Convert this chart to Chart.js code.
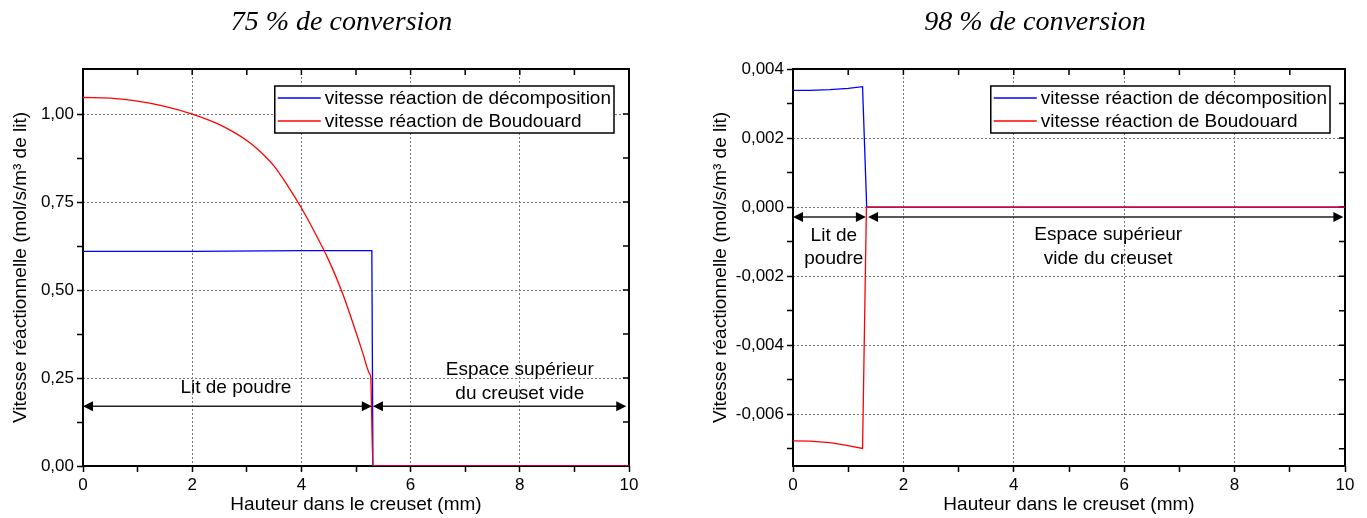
<!DOCTYPE html>
<html>
<head>
<meta charset="utf-8">
<script src="https://cdn.jsdelivr.net/npm/chart.js@4.4.1/dist/chart.umd.min.js"></script>
<style>
  html, body { margin: 0; padding: 0; background: #fff; }
  body { width: 1367px; height: 518px; position: relative; overflow: hidden; }
  canvas { position: absolute; top: 0; }
  #chartLeft { left: 0; }
  #chartRight { left: 703px; }
</style>
</head>
<body>
<canvas id="chartLeft" width="683" height="518"></canvas>
<canvas id="chartRight" width="664" height="518"></canvas>
<script>
const FONT = "'Liberation Sans', Arial, sans-serif";
const seriesNames = ['vitesse réaction de décomposition', 'vitesse réaction de Boudouard'];
const xTitle = 'Hauteur dans le creuset (mm)';
const yTitle = 'Vitesse réactionnelle (mol/s/m³ de lit)';

// 75 % de conversion
const leftBlueX = [0, 2, 4, 5.29, 5.31, 10];
const leftBlueY = [0.61, 0.61, 0.612, 0.612, 0, 0];
const leftRedX = [0, 0.5, 1, 1.5, 2, 2.5, 3, 3.25, 3.5, 3.75, 4, 4.25, 4.5, 4.75, 5, 5.13, 5.25, 5.27, 5.31, 10];
const leftRedY = [1.047, 1.045, 1.037, 1.022, 1.0, 0.97, 0.925, 0.893, 0.852, 0.796, 0.733, 0.662, 0.585, 0.492, 0.38, 0.318, 0.262, 0.252, 0, 0];
const leftXTicks = [0, 2, 4, 6, 8, 10];
const leftXMinor = [1, 3, 5, 7, 9];
const leftYTicks = [0, 0.25, 0.5, 0.75, 1.0];
const leftYMinor = [0.125, 0.375, 0.625, 0.875];

// 98 % de conversion
const rightBlueX = [0, 0.3, 0.67, 1.0, 1.26, 1.335, 10];
const rightBlueY = [0.00338, 0.00338, 0.0034, 0.00344, 0.00349, 0, 0];
const rightRedX = [0, 0.3, 0.67, 0.97, 1.26, 1.33, 10];
const rightRedY = [-0.00677, -0.00678, -0.00682, -0.0069, -0.00699, 0, 0];
const rightXTicks = [0, 2, 4, 6, 8, 10];
const rightXMinor = [1, 3, 5, 7, 9];
const rightYTicks = [-0.006, -0.004, -0.002, 0, 0.002, 0.004];
const rightYMinor = [-0.007, -0.005, -0.003, -0.001, 0.001, 0.003];

const pts = (xs, ys) => xs.map((x, i) => ({x: x, y: ys[i]}));
const isMajor = (list, v) => list.some(m => Math.abs(m - v) < 1e-9);
const comma = d => v => v.toFixed(d).replace('.', ',');

function axis(major, minor, min, max, fmt, title, titlePad, fit) {
  return {
    type: 'linear', min: min, max: max,
    afterBuildTicks: s => { s.ticks = major.concat(minor).sort((a, b) => a - b).map(v => ({value: v})); },
    afterFit: fit,
    ticks: {
      autoSkip: false, maxRotation: 0, color: '#000', padding: 3,
      font: {family: FONT, size: 17},
      callback: v => isMajor(major, v) ? fmt(v) : ''
    },
    grid: {
      color: c => (c.tick && isMajor(major, c.tick.value)) ? '#777' : 'rgba(0,0,0,0)',
      lineWidth: 1, tickLength: 6, tickColor: '#000', tickWidth: 1.5
    },
    border: {display: false, dash: [2, 2]},
    title: {display: true, text: title, color: '#000', font: {family: FONT, size: 19}, padding: titlePad}
  };
}

// frame with mirror ticks (under the curves), then title, legend, arrows and labels
const decorPlugin = {
  id: 'decor',
  beforeDatasetsDraw(chart) {
    const {ctx, chartArea: a, scales: {x, y}} = chart;
    ctx.save();
    ctx.strokeStyle = '#000';
    ctx.lineWidth = 1.5;
    ctx.beginPath();
    x.ticks.forEach(t => { const px = x.getPixelForValue(t.value); ctx.moveTo(px, a.top); ctx.lineTo(px, a.top + 6); });
    y.ticks.forEach(t => { const py = y.getPixelForValue(t.value); ctx.moveTo(a.right, py); ctx.lineTo(a.right - 6, py); });
    ctx.stroke();
    ctx.lineWidth = 2;
    ctx.strokeRect(a.left, a.top, a.right - a.left, a.bottom - a.top);
    ctx.restore();
  },
  afterDraw(chart, args, o) {
    const {ctx, chartArea: a, scales: {x, y}} = chart;
    ctx.save();
    ctx.fillStyle = '#000';
    ctx.font = "italic 28px 'Liberation Serif', 'Times New Roman', serif";
    ctx.textAlign = 'center';
    ctx.textBaseline = 'middle';
    ctx.fillText(o.title, chart.width / 2, 23);

    // arrows
    ctx.font = '19px ' + FONT;
    o.arrows.forEach(ar => {
      const x1 = x.getPixelForValue(ar[0]), x2 = x.getPixelForValue(ar[1]), py = y.getPixelForValue(ar[2]);
      ctx.strokeStyle = '#222';
      ctx.lineWidth = 1.5;
      ctx.beginPath(); ctx.moveTo(x1 + 8, py); ctx.lineTo(x2 - 8, py); ctx.stroke();
      ctx.fillStyle = '#000';
      ctx.beginPath(); ctx.moveTo(x1, py); ctx.lineTo(x1 + 10, py - 5); ctx.lineTo(x1 + 10, py + 5); ctx.closePath(); ctx.fill();
      ctx.beginPath(); ctx.moveTo(x2, py); ctx.lineTo(x2 - 10, py - 5); ctx.lineTo(x2 - 10, py + 5); ctx.closePath(); ctx.fill();
    });
    ctx.fillStyle = '#000';
    o.labels.forEach(l => ctx.fillText(l[0], x.getPixelForValue(l[1]), y.getPixelForValue(l[2])));

    // legend
    const ds = chart.data.datasets.slice().sort((p, q) => q.order - p.order);
    const tw = Math.max(...ds.map(d => ctx.measureText(d.label).width));
    const bw = 3 + 43 + 4 + tw + 3, bh = 47;
    const bx = a.right - 15 - bw, by = a.top + 17;
    ctx.fillStyle = '#fff';
    ctx.fillRect(bx, by, bw, bh);
    ctx.strokeStyle = '#000';
    ctx.lineWidth = 1.5;
    ctx.strokeRect(bx, by, bw, bh);
    ctx.textAlign = 'left';
    ds.forEach((d, i) => {
      const ry = by + 12 + i * 23;
      ctx.strokeStyle = d.borderColor;
      ctx.lineWidth = 1.3;
      ctx.beginPath(); ctx.moveTo(bx + 3, ry); ctx.lineTo(bx + 46, ry); ctx.stroke();
      ctx.fillStyle = '#000';
      ctx.fillText(d.label, bx + 50, ry + 1);
    });
    ctx.restore();
  }
};

function makeChart(id, blue, red, smoothRed, xAxis, yAxis, rightPad, decor) {
  return new Chart(document.getElementById(id), {
    type: 'line',
    data: {
      datasets: [
        {label: seriesNames[0], data: blue, borderColor: '#0000ff', borderWidth: 1.3, order: 2},
        {label: seriesNames[1], data: red, borderColor: '#ff0000', borderWidth: 1.3, order: 1,
         cubicInterpolationMode: smoothRed ? 'monotone' : 'default'}
      ]
    },
    options: {
      responsive: false,
      animation: false,
      events: [],
      layout: {padding: {top: 69, right: rightPad, bottom: 0, left: 0}},
      elements: {point: {radius: 0}, line: {tension: 0, fill: false}},
      scales: {x: xAxis, y: yAxis},
      plugins: {legend: {display: false}, tooltip: {enabled: false}, decor: decor}
    },
    plugins: [decorPlugin]
  });
}

makeChart('chartLeft', pts(leftBlueX, leftBlueY), pts(leftRedX, leftRedY), true,
  axis(leftXTicks, leftXMinor, 0, 10, v => String(v), xTitle, {top: 0, bottom: 2}, s => { s.height = 52; }),
  axis(leftYTicks, leftYMinor, 0, 1.128, comma(2), yTitle, {top: 9, bottom: 0}, s => { s.width = 83; }),
  54,
  {
    title: '75 % de conversion',
    arrows: [[0, 5.29, 0.17], [5.31, 9.95, 0.17]],
    labels: [['Lit de poudre', 2.8, 0.222], ['Espace supérieur', 8.0, 0.273], ['du creuset vide', 8.0, 0.205]]
  });

makeChart('chartRight', pts(rightBlueX, rightBlueY), pts(rightRedX, rightRedY), false,
  axis(rightXTicks, rightXMinor, 0, 10, v => String(v), xTitle, {top: 0, bottom: 2}, s => { s.height = 52; }),
  axis(rightYTicks, rightYMinor, -0.0075, 0.004, comma(3), yTitle, {top: 6, bottom: 0}, s => { s.width = 90; }),
  22,
  {
    title: '98 % de conversion',
    arrows: [[0, 1.32, -0.00029], [1.36, 9.97, -0.00029]],
    labels: [['Lit de', 0.74, -0.00084], ['poudre', 0.74, -0.0015], ['Espace supérieur', 5.71, -0.00081], ['vide du creuset', 5.71, -0.0015]]
  });
</script>
</body>
</html>
